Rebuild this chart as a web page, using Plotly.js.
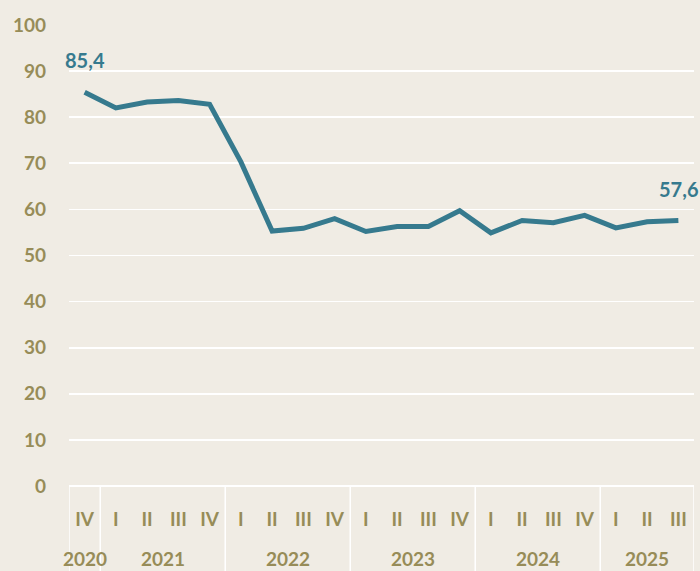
<!DOCTYPE html>
<html>
<head>
<meta charset="utf-8">
<script src="https://cdn.plot.ly/plotly-3.0.1.min.js"></script>
<style>html,body{margin:0;padding:0;background:#f0ece4;}#chart{width:700px;height:571px;}</style>
</head>
<body>
<div id="chart"></div>
<script>
const quarters = ['IV','I','II','III','IV','I','II','III','IV','I','II','III','IV','I','II','III','IV','I','II','III'];
const years = ['2020','2021','2021','2021','2021','2022','2022','2022','2022','2023','2023','2023','2023','2024','2024','2024','2024','2025','2025','2025'];
const values = [85.4, 82.0, 83.3, 83.6, 82.8, 70.3, 55.3, 55.9, 58.0, 55.2, 56.3, 56.3, 59.7, 54.9, 57.6, 57.1, 58.7, 56.0, 57.3, 57.6];
const yTicks = [0,10,20,30,40,50,60,70,80,90,100];

const idx = values.map((v,i)=>i);
const olive = '#978c58';
const teal = '#367a8e';
const font = {family:'Lato, "Open Sans", sans-serif', size:19, color:olive, weight:700};

// year groups
const groups = [];
years.forEach((y,i)=>{
  if(!groups.length || groups[groups.length-1].year!==y) groups.push({year:y,start:i,end:i});
  else groups[groups.length-1].end=i;
});

const plotH = 571-24.5-85;
const bottomY = -85/plotH;

const annotations = groups.map(g=>({
  x:(g.start+g.end)/2, xref:'x', y:(486-559)/plotH, yref:'paper',
  text:g.year, showarrow:false, yanchor:'middle', xanchor:'center', font:font
}));
const last = values.length-1;
annotations.push({x:0, y:values[0], xref:'x', yref:'y', text:values[0].toFixed(1).replace('.',','), showarrow:false, yshift:32, font:Object.assign({},font,{color:teal, size:20})});
annotations.push({x:last, y:values[last], xref:'x', yref:'y', text:values[last].toFixed(1).replace('.',','), showarrow:false, yshift:31, font:Object.assign({},font,{color:teal, size:20})});

const shapes = [];
const bounds = [groups[0].start-0.5].concat(groups.map(g=>g.end+0.5));
bounds.forEach(b=>shapes.push({type:'line', xref:'x', yref:'paper', x0:b, x1:b, y0:0, y1:bottomY, line:{color:'#ffffff', width:1.5}}));

const trace = {
  x: idx, y: values, type:'scatter', mode:'lines',
  line:{color:teal, width:5, shape:'linear'},
  hoverinfo:'skip'
};

const layout = {
  width:700, height:571,
  margin:{l:69, r:6, t:24.5, b:85},
  paper_bgcolor:'#f0ece4', plot_bgcolor:'#f0ece4',
  showlegend:false,
  xaxis:{
    range:[-0.5, values.length-0.5], tickmode:'array', tickvals:idx, ticktext:quarters,
    showgrid:false, zeroline:false, showline:false, ticks:'', tickfont:font,
    ticklabelstandoff:20, fixedrange:true
  },
  yaxis:{
    range:[0,100], tickmode:'array', tickvals:yTicks, ticktext:yTicks.map(String),
    showgrid:true, gridcolor:'#ffffff', gridwidth:1.7, zeroline:true, zerolinecolor:'#ffffff', zerolinewidth:1.7,
    showline:false, ticks:'', tickfont:font, ticklabelstandoff:22, fixedrange:true
  },
  annotations:annotations,
  shapes:shapes
};

Plotly.newPlot('chart', [trace], layout, {displayModeBar:false, staticPlot:true});
</script>
</body>
</html>
